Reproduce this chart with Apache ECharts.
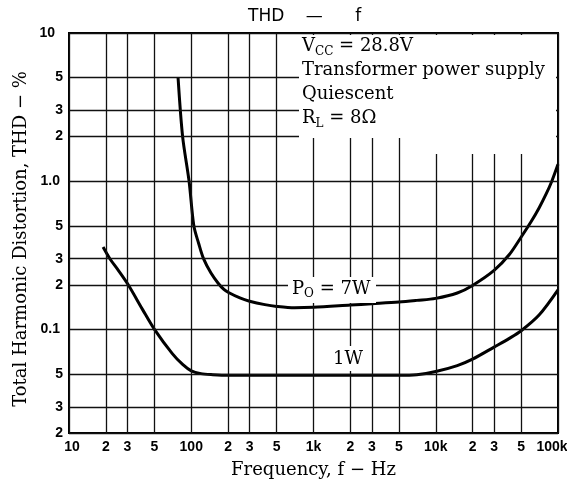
<!DOCTYPE html>
<html><head><meta charset="utf-8">
<script src="https://cdn.jsdelivr.net/npm/echarts@6/dist/echarts.min.js"></script>
<style>html,body{margin:0;padding:0;background:#fff}#c{width:567px;height:489px}</style>
</head><body><div id="c"></div>
<script>
// ---- data ----
const freq7W = [78, 85, 96, 105, 115, 126, 145, 166, 185, 200, 250, 300, 400, 500, 700, 1000, 2000, 3000, 5000, 7000, 10000, 15000, 20000, 30000, 40000, 50000, 60000, 70000, 80000, 89000, 100000];
const thd7W  = [5.0, 2.0, 1.0, 0.5, 0.38, 0.3, 0.24, 0.205, 0.186, 0.178, 0.163, 0.155, 0.147, 0.143, 0.140, 0.141, 0.146, 0.149, 0.153, 0.157, 0.162, 0.176, 0.198, 0.25, 0.32, 0.42, 0.53, 0.66, 0.82, 1.0, 1.3];
const freq1W = [19, 21.6, 25, 30.5, 40, 50, 70, 85, 100, 120, 150, 200, 500, 1000, 2000, 5000, 7000, 10000, 15000, 20000, 30000, 40000, 50000, 70000, 100000];
const thd1W  = [0.36, 0.3, 0.254, 0.2, 0.136, 0.1, 0.0686, 0.058, 0.0525, 0.0503, 0.0495, 0.049, 0.049, 0.049, 0.049, 0.049, 0.0495, 0.052, 0.057, 0.063, 0.076, 0.087, 0.098, 0.125, 0.185];
const xTickValues = [10, 20, 30, 50, 100, 200, 300, 500, 1000, 2000, 3000, 5000, 10000, 20000, 30000, 50000, 100000];
const xTickLabels = ['10', '2', '3', '5', '100', '2', '3', '5', '1k', '2', '3', '5', '10k', '2', '3', '5', '100k'];
const yTickValues = [10, 5, 3, 2, 1, 0.5, 0.3, 0.2, 0.1, 0.05, 0.03, 0.02];
const yTickLabels = ['10', '5', '3', '2', '1.0', '5', '3', '2', '0.1', '5', '3', '2'];
const curveNames = ['7W', '1W'];

const chart = echarts.init(document.getElementById('c'), null, {renderer: 'canvas'});
const serif = '"DejaVu Serif", "Liberation Serif", serif';
const tickFont = {color: '#000', fontFamily: '"Liberation Sans Narrow", "Liberation Sans", Arial, sans-serif', fontWeight: 'bold', fontSize: 14};
const gridLine = {color: '#111', width: 1.3, type: 'solid'};

function xLabel(i) {
  const l = {formatter: xTickLabels[i]};
  if (i === 0) l.padding = [0, 0, 0, 6];
  if (i === xTickLabels.length - 1) l.padding = [0, 12, 0, 0];
  return l;
}
function yLabel(i) {
  const l = {formatter: yTickLabels[i]};
  const t = yTickLabels[i];
  if (t === '10') l.padding = [0, 8, 0, 0];
  else if (t.length > 1) l.padding = [0, 3, 0, 0];
  return l;
}

const option = {
  animation: false,
  backgroundColor: '#fff',
  title: {
    text: 'THD    \u2014      f', left: 243, top: 3,
    textStyle: {fontFamily: '"DejaVu Sans", "Liberation Sans", sans-serif', fontWeight: 'normal', fontSize: 17, color: '#000'}
  },
  grid: {left: 69, right: 9, top: 33, bottom: 56, show: true, borderColor: '#000', borderWidth: 2, backgroundColor: '#fff'},
  xAxis: {
    type: 'log', logBase: 10, min: 10, max: 100000,
    axisLine: {show: false}, axisTick: {show: false}, axisLabel: {show: false}, splitLine: {show: false},
    name: 'Frequency, f \u2212 Hz', nameLocation: 'middle', nameGap: 28,
    nameTextStyle: {fontFamily: serif, fontSize: 18, color: '#000'}
  },
  yAxis: {
    type: 'log', logBase: 10, min: 0.02, max: 10,
    axisLine: {show: false}, axisTick: {show: false}, axisLabel: {show: false}, splitLine: {show: false},
    name: 'Total Harmonic Distortion, THD \u2212 %', nameLocation: 'middle', nameGap: 39,
    nameTextStyle: {fontFamily: serif, fontSize: 18, color: '#000', padding: [0, 12, 0, 0]}
  },
  series: [
    {
      type: 'line', data: [], silent: true, z: 1,
      markLine: {
        silent: true, symbol: 'none', animation: false,
        lineStyle: gridLine,
        label: Object.assign({show: true, position: 'start', distance: 7}, tickFont),
        data: xTickValues.map((v, i) => ({xAxis: v, label: xLabel(i)}))
      }
    },
    {
      type: 'line', data: [], silent: true, z: 1,
      markLine: {
        silent: true, symbol: 'none', animation: false,
        lineStyle: gridLine,
        label: Object.assign({show: true, position: 'start', distance: 6}, tickFont),
        data: yTickValues.map((v, i) => ({yAxis: v, label: yLabel(i)}))
      }
    },
    {
      name: curveNames[0], type: 'line', z: 3, showSymbol: false, smooth: 0.3,
      lineStyle: {color: '#000', width: 3}, itemStyle: {color: '#000'},
      data: freq7W.map((f, i) => [f, thd7W[i]])
    },
    {
      name: curveNames[1], type: 'line', z: 3, showSymbol: false, smooth: 0.3,
      lineStyle: {color: '#000', width: 3}, itemStyle: {color: '#000'},
      data: freq1W.map((f, i) => [f, thd1W[i]])
    }
  ],
  graphic: [
    {type: 'rect', z: 10, silent: true, shape: {x: 299, y: 35, width: 257, height: 103}, style: {fill: '#fff'}},
    {type: 'rect', z: 10, silent: true, shape: {x: 420, y: 35, width: 136, height: 119}, style: {fill: '#fff'}},
    {type: 'rect', z: 10, silent: true, shape: {x: 288, y: 277, width: 88, height: 26}, style: {fill: '#fff'}},
    {type: 'rect', z: 10, silent: true, shape: {x: 328, y: 346, width: 40, height: 25}, style: {fill: '#fff'}},
    {
      type: 'text', z: 11, silent: true, x: 302, y: 34,
      style: {
        text: '{m|V}{s|CC}{m| = 28.8V}\n{m|Transformer power supply}\n{m|Quiescent}\n{m|R}{s|L}{m| = 8\u03a9}',
        fill: '#000',
        rich: {
          m: {fontFamily: serif, fontSize: 18, lineHeight: 24, fill: '#000', verticalAlign: 'middle'},
          s: {fontFamily: serif, fontSize: 12, lineHeight: 12, fill: '#000', verticalAlign: 'bottom'}
        }
      }
    },
    {
      type: 'text', z: 11, silent: true, x: 292, y: 278,
      style: {
        text: '{m|P}{s|O}{m| = 7W}', fill: '#000',
        rich: {
          m: {fontFamily: serif, fontSize: 18, lineHeight: 22, fill: '#000', verticalAlign: 'middle'},
          s: {fontFamily: serif, fontSize: 12, lineHeight: 12, fill: '#000', verticalAlign: 'bottom'}
        }
      }
    },
    {
      type: 'text', z: 11, silent: true, x: 333, y: 350,
      style: {text: '1W', fill: '#000', font: '18px ' + serif}
    }
  ]
};
chart.setOption(option);
</script></body></html>
